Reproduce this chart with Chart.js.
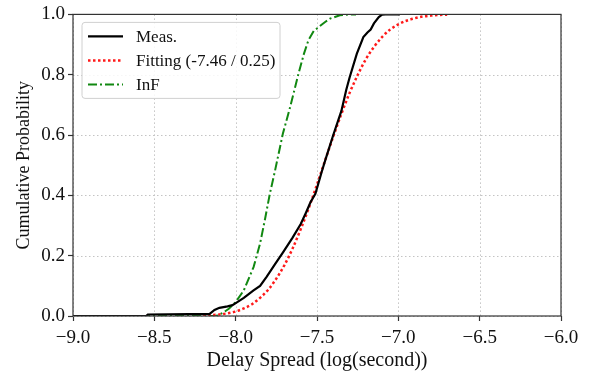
<!DOCTYPE html>
<html>
<head>
<meta charset="utf-8">
<script src="https://cdn.jsdelivr.net/npm/chart.js@4.4.1/dist/chart.umd.min.js"></script>
<style>
    html, body { margin: 0; padding: 0; background: #fff; }
    #wrap { width: 591px; height: 373px; }
</style>
</head>
<body>
<div id="wrap"><canvas id="cdfChart" width="591" height="373"></canvas></div>
<script>
// Meas. (empirical CDF)
const measX = [-9.0, -8.55, -8.54, -8.16, -8.13, -8.10, -8.05, -8.02, -7.99, -7.95, -7.89, -7.85, -7.81, -7.76, -7.71, -7.65, -7.60, -7.57, -7.54, -7.51, -7.47, -7.45, -7.40, -7.35, -7.32, -7.30, -7.255, -7.215, -7.19, -7.17, -7.15, -7.12, -7.10, -7.08, -6.99];
const measY = [0, 0, 0.005, 0.007, 0.02, 0.027, 0.032, 0.036, 0.046, 0.06, 0.085, 0.10, 0.13, 0.17, 0.21, 0.26, 0.305, 0.34, 0.377, 0.405, 0.48, 0.515, 0.60, 0.68, 0.75, 0.79, 0.87, 0.925, 0.94, 0.95, 0.97, 0.991, 0.999, 1.0, 1.0];

// Fitting (-7.46 / 0.25)
const fitX = [-8.2, -8.1, -8.05, -8.0, -7.95, -7.9, -7.85, -7.8, -7.75, -7.7, -7.65, -7.6, -7.55, -7.5, -7.45, -7.4, -7.35, -7.3, -7.25, -7.2, -7.15, -7.1, -7.05, -7.0, -6.95, -6.9, -6.85, -6.8, -6.75, -6.7];
const fitY = [0.0015, 0.005, 0.009, 0.015, 0.025, 0.039, 0.060, 0.087, 0.124, 0.169, 0.224, 0.288, 0.359, 0.436, 0.516, 0.595, 0.670, 0.739, 0.799, 0.851, 0.892, 0.925, 0.950, 0.967, 0.979, 0.987, 0.993, 0.996, 0.998, 0.999];

// InF
const infX = [-9.0, -8.12, -8.08, -8.04, -8.0, -7.95, -7.89, -7.85, -7.82, -7.79, -7.758, -7.71, -7.665, -7.614, -7.58, -7.553, -7.52, -7.49, -7.45, -7.42, -7.36, -7.30, -7.26];
const infY = [0, 0, 0.01, 0.025, 0.046, 0.085, 0.162, 0.24, 0.32, 0.405, 0.482, 0.604, 0.693, 0.803, 0.87, 0.914, 0.945, 0.958, 0.975, 0.986, 0.997, 1.0, 1.0];

const seriesLabels = ['Meas.', 'Fitting (-7.46 / 0.25)', 'InF'];
const xTicks = [-9.0, -8.5, -8.0, -7.5, -7.0, -6.5, -6.0];
const yTicks = [0.0, 0.2, 0.4, 0.6, 0.8, 1.0];

const SERIF = '"Liberation Serif", "Times New Roman", serif';
const toPoints = (xs, ys) => xs.map((x, i) => ({ x: x, y: ys[i] }));
const fmt = v => v.toFixed(1).replace('-', '\u2212');

// dotted grid, drawn under the curves
const gridPlugin = {
    id: 'dottedGrid',
    beforeDatasetsDraw(chart) {
        const { ctx, chartArea: a, scales } = chart;
        ctx.save();
        ctx.strokeStyle = '#c4c4c4';
        ctx.lineWidth = 1;
        ctx.setLineDash([1.5, 2.5]);
        xTicks.forEach(v => {
            const px = Math.round(scales.x.getPixelForValue(v)) + 0.5;
            ctx.beginPath();
            ctx.moveTo(px, a.top);
            ctx.lineTo(px, a.bottom);
            ctx.stroke();
        });
        yTicks.forEach(v => {
            const py = Math.round(scales.y.getPixelForValue(v)) + 0.5;
            ctx.beginPath();
            ctx.moveTo(a.left, py);
            ctx.lineTo(a.right, py);
            ctx.stroke();
        });
        ctx.restore();
    }
};

// frame on all four sides (matplotlib style)
const framePlugin = {
    id: 'frame',
    afterDatasetsDraw(chart) {
        const { ctx, chartArea: a } = chart;
        ctx.save();
        ctx.strokeStyle = '#333';
        ctx.lineWidth = 1.2;
        ctx.strokeRect(a.left, a.top, a.right - a.left, a.bottom - a.top);
        ctx.restore();
    }
};

// legend drawn inside the plot, upper left
const legendPlugin = {
    id: 'innerLegend',
    afterDraw(chart) {
        const { ctx, chartArea: a } = chart;
        const x0 = a.left + 9, y0 = a.top + 8, w = 198, h = 76;
        ctx.save();
        ctx.fillStyle = 'rgba(255,255,255,0.85)';
        ctx.strokeStyle = '#d0d0d0';
        ctx.lineWidth = 1;
        ctx.beginPath();
        ctx.roundRect(x0, y0, w, h, 3);
        ctx.fill();
        ctx.stroke();
        ctx.font = '17px ' + SERIF;
        ctx.textBaseline = 'middle';
        chart.data.datasets.forEach((ds, i) => {
            const y = y0 + 14 + i * 24;
            ctx.strokeStyle = ds.borderColor;
            ctx.lineWidth = ds.borderWidth;
            ctx.setLineDash(ds.borderDash || []);
            ctx.beginPath();
            ctx.moveTo(x0 + 6, y);
            ctx.lineTo(x0 + 41, y);
            ctx.stroke();
            ctx.setLineDash([]);
            ctx.fillStyle = '#111';
            ctx.fillText(ds.label, x0 + 54, y + 1);
        });
        ctx.restore();
    }
};

// only the outward tick marks come from the library grid
const gridOpts = {
    drawOnChartArea: false,
    tickColor: '#333',
    tickLength: 5,
    tickWidth: 1.2
};

new Chart(document.getElementById('cdfChart').getContext('2d'), {
    type: 'line',
    data: {
        datasets: [{
            label: seriesLabels[0],
            data: toPoints(measX, measY),
            borderColor: '#000',
            borderWidth: 2.2,
            pointRadius: 0,
            tension: 0
        }, {
            label: seriesLabels[1],
            data: toPoints(fitX, fitY),
            borderColor: '#ff1a1a',
            borderWidth: 2.5,
            borderDash: [2.5, 2.5],
            pointRadius: 0,
            cubicInterpolationMode: 'monotone'
        }, {
            label: seriesLabels[2],
            data: toPoints(infX, infY),
            borderColor: '#118811',
            borderWidth: 2,
            borderDash: [9, 3, 2, 3],
            pointRadius: 0,
            tension: 0
        }]
    },
    options: {
        responsive: false,
        animation: false,
        layout: { padding: { top: 14, right: 30, left: 0, bottom: 0 } },
        plugins: { legend: { display: false }, tooltip: { enabled: false } },
        scales: {
            x: {
                type: 'linear',
                min: -9, max: -6,
                afterBuildTicks: s => { s.ticks = xTicks.map(v => ({ value: v })); },
                afterFit: s => { s.height = 57; },
                ticks: { callback: v => fmt(v), color: '#111', padding: 6, maxRotation: 0, font: { family: SERIF, size: 19 } },
                grid: Object.assign({}, gridOpts),
                border: { display: false },
                title: { display: true, text: 'Delay Spread (log(second))', color: '#111', padding: 0, font: { family: SERIF, size: 20 } }
            },
            y: {
                min: 0, max: 1,
                afterBuildTicks: s => { s.ticks = yTicks.map(v => ({ value: v })); },
                afterFit: s => { s.width = 73; },
                ticks: { callback: v => fmt(v), color: '#111', padding: 3, font: { family: SERIF, size: 19 } },
                grid: Object.assign({}, gridOpts),
                border: { display: false },
                title: { display: true, text: 'Cumulative Probability', color: '#111', padding: { top: 13, bottom: 0 }, font: { family: SERIF, size: 18 } }
            }
        }
    },
    plugins: [gridPlugin, framePlugin, legendPlugin]
});
</script>
</body>
</html>
